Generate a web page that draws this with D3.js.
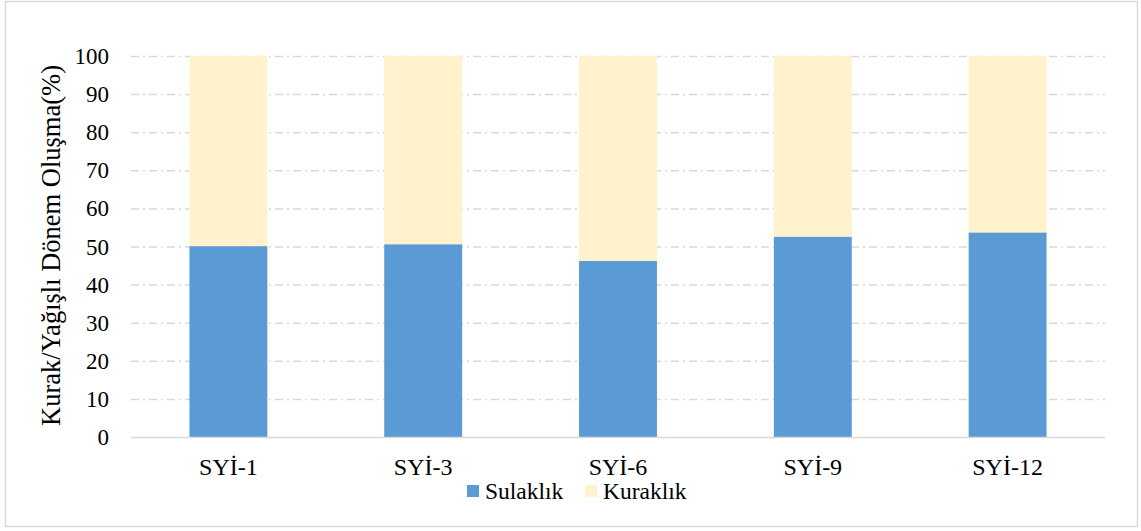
<!DOCTYPE html>
<html>
<head>
<meta charset="utf-8">
<script src="https://cdn.jsdelivr.net/npm/d3@7"></script>
<style>
  body { margin: 0; background: #fff; }
  svg text { font-family: "Liberation Serif", "DejaVu Serif", serif; }
</style>
</head>
<body>
<svg id="chart" width="1141" height="531"></svg>
<script>
// chart data
const categories = ["SYİ-1", "SYİ-3", "SYİ-6", "SYİ-9", "SYİ-12"];
const sulaklik = [50.1, 50.6, 46.2, 52.6, 53.7];
const kuraklik = [49.9, 49.4, 53.8, 47.4, 46.3];
const seriesNames = ["Sulaklık", "Kuraklık"];
const seriesColors = ["#5b9bd5", "#fff2cc"];
const yTicks = [0, 10, 20, 30, 40, 50, 60, 70, 80, 90, 100];

const svg = d3.select("#chart");
const W = 1141, H = 531;
const margin = {left: 131, right: 36, top: 56, bottom: 94};
const serif = "'Liberation Serif', 'DejaVu Serif', serif";

// outer frame
svg.append("rect")
    .attr("x", 5.5).attr("y", 1.5)
    .attr("width", 1132).attr("height", 525)
    .attr("fill", "#fff")
    .attr("stroke", "#d9d9d9")
    .attr("stroke-width", 1.5);

const x = d3.scaleBand()
    .domain(categories)
    .range([margin.left, W - margin.right])
    .paddingInner(0.6)
    .paddingOuter(0.3);

const y = d3.scaleLinear()
    .domain([0, 100])
    .range([H - margin.bottom, margin.top]);

// grid lines
svg.append("g")
  .selectAll("line")
  .data(yTicks.filter(d => d > 0))
  .join("line")
    .attr("x1", margin.left)
    .attr("x2", W - margin.right)
    .attr("y1", d => y(d) + 0.5)
    .attr("y2", d => y(d) + 0.5)
    .attr("stroke", "#d9d9d9")
    .attr("stroke-width", 1.5)
    .attr("stroke-dasharray", "8,4,2,4");

// stacked bars
const rows = categories.map((c, i) => ({cat: c, Sulaklık: sulaklik[i], Kuraklık: kuraklik[i]}));
const stacked = d3.stack().keys(seriesNames)(rows);

svg.append("g")
  .selectAll("g")
  .data(stacked)
  .join("g")
    .attr("fill", (d, i) => seriesColors[i])
  .selectAll("rect")
  .data(d => d)
  .join("rect")
    .attr("x", d => x(d.data.cat))
    .attr("width", x.bandwidth())
    .attr("y", d => y(d[1]))
    .attr("height", d => y(d[0]) - y(d[1]));

// x axis line
svg.append("line")
    .attr("x1", margin.left)
    .attr("x2", W - margin.right)
    .attr("y1", y(0) + 0.5)
    .attr("y2", y(0) + 0.5)
    .attr("stroke", "#d9d9d9")
    .attr("stroke-width", 1.5);

// y tick labels
svg.append("g")
  .selectAll("text")
  .data(yTicks)
  .join("text")
    .attr("x", 109)
    .attr("y", d => y(d))
    .attr("dy", "0.35em")
    .attr("text-anchor", "end")
    .attr("font-family", serif)
    .attr("font-size", 23)
    .attr("fill", "#000")
    .text(d => d);

// x labels
svg.append("g")
  .selectAll("text")
  .data(categories)
  .join("text")
    .attr("x", d => x(d) + x.bandwidth() / 2)
    .attr("y", 475)
    .attr("text-anchor", "middle")
    .attr("font-family", serif)
    .attr("font-size", 24)
    .attr("fill", "#000")
    .text(d => d);

// y title
svg.append("text")
    .attr("transform", `translate(60,${(y(0) + y(100)) / 2 - 1}) rotate(-90)`)
    .attr("text-anchor", "middle")
    .attr("font-family", serif)
    .attr("font-size", 26.5)
    .attr("fill", "#000")
    .text("Kurak/Yağışlı Dönem Oluşma(%)");

// legend
const legendX = [467, 585];
const legend = svg.append("g")
  .selectAll("g")
  .data(seriesNames)
  .join("g")
    .attr("transform", (d, i) => `translate(${legendX[i]},485)`);

legend.append("rect")
    .attr("width", 12).attr("height", 12)
    .attr("fill", (d, i) => seriesColors[i]);

legend.append("text")
    .attr("x", 18)
    .attr("y", 6)
    .attr("dy", "0.35em")
    .attr("font-family", serif)
    .attr("font-size", 23.5)
    .attr("fill", "#000")
    .text(d => d);
</script>
</body>
</html>
